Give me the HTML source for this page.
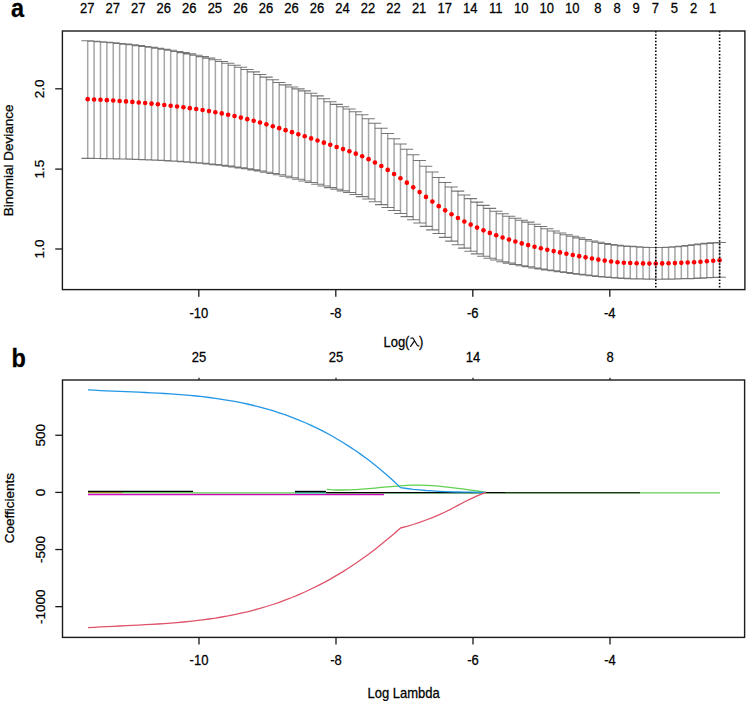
<!DOCTYPE html>
<html><head><meta charset="utf-8"><title>glmnet</title>
<style>html,body{margin:0;padding:0;background:#fff;width:749px;height:701px;overflow:hidden}</style>
</head><body>
<svg width="749" height="701" viewBox="0 0 749 701" style="display:block">
<rect width="749" height="701" fill="#fff"/>
<path d="M87.70 40.72V158.38M94.08 41.19V158.46M100.47 41.69V158.56M106.85 42.23V158.66M113.23 42.81V158.78M119.62 43.44V158.92M126.00 44.11V159.07M132.38 44.84V159.25M138.76 45.61V159.45M145.15 46.43V159.68M151.53 47.31V159.94M157.91 48.25V160.22M164.30 49.24V160.54M170.68 50.30V160.90M177.06 51.42V161.29M183.44 52.60V161.73M189.83 53.86V162.21M196.21 55.19V162.73M202.59 56.60V163.30M208.98 58.10V163.93M215.36 59.71V164.60M221.74 61.42V165.33M228.13 63.25V166.12M234.51 65.20V166.96M240.89 67.29V167.87M247.27 69.51V168.84M253.66 71.89V169.89M260.04 74.43V171.00M266.42 77.11V172.19M272.81 79.83V173.46M279.19 82.46V174.80M285.57 84.86V176.23M291.96 86.95V177.74M298.34 88.89V179.31M304.72 90.89V180.94M311.11 93.17V182.59M317.49 95.86V184.27M323.87 98.80V185.95M330.25 101.71V187.62M336.64 104.35V189.26M343.02 106.73V190.88M349.40 109.07V192.57M355.79 111.66V194.44M362.17 114.80V196.60M368.55 118.70V199.06M374.94 123.27V201.75M381.32 128.32V204.61M387.70 133.58V207.57M394.08 138.80V210.56M400.47 144.01V213.58M406.85 149.30V216.63M413.23 154.79V219.76M419.62 160.51V222.99M426.00 166.33V226.35M432.38 172.05V229.87M438.76 177.48V233.57M445.15 182.44V237.37M451.53 186.96V241.14M457.91 191.11V244.76M464.30 194.98V248.13M470.68 198.64V251.16M477.06 202.10V253.85M483.45 205.35V256.20M489.83 208.39V258.26M496.21 211.21V260.08M502.59 213.82V261.68M508.98 216.19V263.12M515.36 218.31V264.44M521.74 220.22V265.67M528.13 222.11V266.83M534.51 224.18V267.91M540.89 226.40V268.93M547.28 228.71V269.90M553.66 230.95V270.83M560.04 232.93V271.72M566.43 234.68V272.59M572.81 236.29V273.43M579.19 237.85V274.25M585.57 239.42V275.04M591.96 240.94V275.77M598.34 242.34V276.44M604.72 243.56V277.04M611.11 244.53V277.56M617.49 245.29V278.00M623.87 245.90V278.37M630.25 246.39V278.66M636.64 246.82V278.89M643.02 247.17V279.05M649.40 247.41V279.14M655.79 247.51V279.18M662.17 247.45V279.17M668.55 247.20V279.10M674.94 246.75V278.99M681.32 246.15V278.83M687.70 245.44V278.64M694.09 244.70V278.40M700.47 243.99V278.14M706.85 243.35V277.84M713.23 242.85V277.52M719.62 242.56V277.17" stroke="#a6a6a6" stroke-width="1.5" fill="none"/>
<path d="M81.38 40.72H94.02M81.38 158.38H94.02M87.76 41.19H100.40M87.76 158.46H100.40M94.15 41.69H106.79M94.15 158.56H106.79M100.53 42.23H113.17M100.53 158.66H113.17M106.91 42.81H119.55M106.91 158.78H119.55M113.30 43.44H125.94M113.30 158.92H125.94M119.68 44.11H132.32M119.68 159.07H132.32M126.06 44.84H138.70M126.06 159.25H138.70M132.44 45.61H145.08M132.44 159.45H145.08M138.83 46.43H151.47M138.83 159.68H151.47M145.21 47.31H157.85M145.21 159.94H157.85M151.59 48.25H164.23M151.59 160.22H164.23M157.98 49.24H170.62M157.98 160.54H170.62M164.36 50.30H177.00M164.36 160.90H177.00M170.74 51.42H183.38M170.74 161.29H183.38M177.12 52.60H189.76M177.12 161.73H189.76M183.51 53.86H196.15M183.51 162.21H196.15M189.89 55.19H202.53M189.89 162.73H202.53M196.27 56.60H208.91M196.27 163.30H208.91M202.66 58.10H215.30M202.66 163.93H215.30M209.04 59.71H221.68M209.04 164.60H221.68M215.42 61.42H228.06M215.42 165.33H228.06M221.81 63.25H234.45M221.81 166.12H234.45M228.19 65.20H240.83M228.19 166.96H240.83M234.57 67.29H247.21M234.57 167.87H247.21M240.95 69.51H253.59M240.95 168.84H253.59M247.34 71.89H259.98M247.34 169.89H259.98M253.72 74.43H266.36M253.72 171.00H266.36M260.10 77.11H272.74M260.10 172.19H272.74M266.49 79.83H279.13M266.49 173.46H279.13M272.87 82.46H285.51M272.87 174.80H285.51M279.25 84.86H291.89M279.25 176.23H291.89M285.64 86.95H298.28M285.64 177.74H298.28M292.02 88.89H304.66M292.02 179.31H304.66M298.40 90.89H311.04M298.40 180.94H311.04M304.79 93.17H317.43M304.79 182.59H317.43M311.17 95.86H323.81M311.17 184.27H323.81M317.55 98.80H330.19M317.55 185.95H330.19M323.93 101.71H336.57M323.93 187.62H336.57M330.32 104.35H342.96M330.32 189.26H342.96M336.70 106.73H349.34M336.70 190.88H349.34M343.08 109.07H355.72M343.08 192.57H355.72M349.47 111.66H362.11M349.47 194.44H362.11M355.85 114.80H368.49M355.85 196.60H368.49M362.23 118.70H374.87M362.23 199.06H374.87M368.62 123.27H381.25M368.62 201.75H381.25M375.00 128.32H387.64M375.00 204.61H387.64M381.38 133.58H394.02M381.38 207.57H394.02M387.76 138.80H400.40M387.76 210.56H400.40M394.15 144.01H406.79M394.15 213.58H406.79M400.53 149.30H413.17M400.53 216.63H413.17M406.91 154.79H419.55M406.91 219.76H419.55M413.30 160.51H425.94M413.30 222.99H425.94M419.68 166.33H432.32M419.68 226.35H432.32M426.06 172.05H438.70M426.06 229.87H438.70M432.44 177.48H445.08M432.44 233.57H445.08M438.83 182.44H451.47M438.83 237.37H451.47M445.21 186.96H457.85M445.21 241.14H457.85M451.59 191.11H464.23M451.59 244.76H464.23M457.98 194.98H470.62M457.98 248.13H470.62M464.36 198.64H477.00M464.36 251.16H477.00M470.74 202.10H483.38M470.74 253.85H483.38M477.13 205.35H489.77M477.13 256.20H489.77M483.51 208.39H496.15M483.51 258.26H496.15M489.89 211.21H502.53M489.89 260.08H502.53M496.27 213.82H508.91M496.27 261.68H508.91M502.66 216.19H515.30M502.66 263.12H515.30M509.04 218.31H521.68M509.04 264.44H521.68M515.42 220.22H528.06M515.42 265.67H528.06M521.81 222.11H534.45M521.81 266.83H534.45M528.19 224.18H540.83M528.19 267.91H540.83M534.57 226.40H547.21M534.57 268.93H547.21M540.96 228.71H553.60M540.96 269.90H553.60M547.34 230.95H559.98M547.34 270.83H559.98M553.72 232.93H566.36M553.72 271.72H566.36M560.11 234.68H572.75M560.11 272.59H572.75M566.49 236.29H579.13M566.49 273.43H579.13M572.87 237.85H585.51M572.87 274.25H585.51M579.25 239.42H591.89M579.25 275.04H591.89M585.64 240.94H598.28M585.64 275.77H598.28M592.02 242.34H604.66M592.02 276.44H604.66M598.40 243.56H611.04M598.40 277.04H611.04M604.79 244.53H617.43M604.79 277.56H617.43M611.17 245.29H623.81M611.17 278.00H623.81M617.55 245.90H630.19M617.55 278.37H630.19M623.93 246.39H636.58M623.93 278.66H636.58M630.32 246.82H642.96M630.32 278.89H642.96M636.70 247.17H649.34M636.70 279.05H649.34M643.08 247.41H655.72M643.08 279.14H655.72M649.47 247.51H662.11M649.47 279.18H662.11M655.85 247.45H668.49M655.85 279.17H668.49M662.23 247.20H674.87M662.23 279.10H674.87M668.62 246.75H681.26M668.62 278.99H681.26M675.00 246.15H687.64M675.00 278.83H687.64M681.38 245.44H694.02M681.38 278.64H694.02M687.76 244.70H700.41M687.76 278.40H700.41M694.15 243.99H706.79M694.15 278.14H706.79M700.53 243.35H713.17M700.53 277.84H713.17M706.91 242.85H719.55M706.91 277.52H719.55M713.30 242.56H725.94M713.30 277.17H725.94" stroke="#4a4a4a" stroke-opacity="0.75" stroke-width="1.05" fill="none"/>
<circle cx="87.70" cy="99.15" r="2.3" fill="#f00"/>
<circle cx="94.08" cy="99.45" r="2.3" fill="#f00"/>
<circle cx="100.47" cy="99.78" r="2.3" fill="#f00"/>
<circle cx="106.85" cy="100.14" r="2.3" fill="#f00"/>
<circle cx="113.23" cy="100.53" r="2.3" fill="#f00"/>
<circle cx="119.62" cy="100.96" r="2.3" fill="#f00"/>
<circle cx="126.00" cy="101.42" r="2.3" fill="#f00"/>
<circle cx="132.38" cy="101.92" r="2.3" fill="#f00"/>
<circle cx="138.76" cy="102.45" r="2.3" fill="#f00"/>
<circle cx="145.15" cy="103.02" r="2.3" fill="#f00"/>
<circle cx="151.53" cy="103.63" r="2.3" fill="#f00"/>
<circle cx="157.91" cy="104.27" r="2.3" fill="#f00"/>
<circle cx="164.30" cy="104.96" r="2.3" fill="#f00"/>
<circle cx="170.68" cy="105.69" r="2.3" fill="#f00"/>
<circle cx="177.06" cy="106.46" r="2.3" fill="#f00"/>
<circle cx="183.44" cy="107.28" r="2.3" fill="#f00"/>
<circle cx="189.83" cy="108.15" r="2.3" fill="#f00"/>
<circle cx="196.21" cy="109.07" r="2.3" fill="#f00"/>
<circle cx="202.59" cy="110.05" r="2.3" fill="#f00"/>
<circle cx="208.98" cy="111.10" r="2.3" fill="#f00"/>
<circle cx="215.36" cy="112.21" r="2.3" fill="#f00"/>
<circle cx="221.74" cy="113.41" r="2.3" fill="#f00"/>
<circle cx="228.13" cy="114.71" r="2.3" fill="#f00"/>
<circle cx="234.51" cy="116.10" r="2.3" fill="#f00"/>
<circle cx="240.89" cy="117.59" r="2.3" fill="#f00"/>
<circle cx="247.27" cy="119.16" r="2.3" fill="#f00"/>
<circle cx="253.66" cy="120.82" r="2.3" fill="#f00"/>
<circle cx="260.04" cy="122.56" r="2.3" fill="#f00"/>
<circle cx="266.42" cy="124.36" r="2.3" fill="#f00"/>
<circle cx="272.81" cy="126.23" r="2.3" fill="#f00"/>
<circle cx="279.19" cy="128.15" r="2.3" fill="#f00"/>
<circle cx="285.57" cy="130.13" r="2.3" fill="#f00"/>
<circle cx="291.96" cy="132.15" r="2.3" fill="#f00"/>
<circle cx="298.34" cy="134.20" r="2.3" fill="#f00"/>
<circle cx="304.72" cy="136.28" r="2.3" fill="#f00"/>
<circle cx="311.11" cy="138.39" r="2.3" fill="#f00"/>
<circle cx="317.49" cy="140.52" r="2.3" fill="#f00"/>
<circle cx="323.87" cy="142.66" r="2.3" fill="#f00"/>
<circle cx="330.25" cy="144.80" r="2.3" fill="#f00"/>
<circle cx="336.64" cy="146.94" r="2.3" fill="#f00"/>
<circle cx="343.02" cy="149.09" r="2.3" fill="#f00"/>
<circle cx="349.40" cy="151.30" r="2.3" fill="#f00"/>
<circle cx="355.79" cy="153.66" r="2.3" fill="#f00"/>
<circle cx="362.17" cy="156.26" r="2.3" fill="#f00"/>
<circle cx="368.55" cy="159.16" r="2.3" fill="#f00"/>
<circle cx="374.94" cy="162.44" r="2.3" fill="#f00"/>
<circle cx="381.32" cy="166.03" r="2.3" fill="#f00"/>
<circle cx="387.70" cy="169.89" r="2.3" fill="#f00"/>
<circle cx="394.08" cy="173.95" r="2.3" fill="#f00"/>
<circle cx="400.47" cy="178.20" r="2.3" fill="#f00"/>
<circle cx="406.85" cy="182.67" r="2.3" fill="#f00"/>
<circle cx="413.23" cy="187.33" r="2.3" fill="#f00"/>
<circle cx="419.62" cy="192.11" r="2.3" fill="#f00"/>
<circle cx="426.00" cy="196.91" r="2.3" fill="#f00"/>
<circle cx="432.38" cy="201.61" r="2.3" fill="#f00"/>
<circle cx="438.76" cy="206.13" r="2.3" fill="#f00"/>
<circle cx="445.15" cy="210.36" r="2.3" fill="#f00"/>
<circle cx="451.53" cy="214.32" r="2.3" fill="#f00"/>
<circle cx="457.91" cy="218.00" r="2.3" fill="#f00"/>
<circle cx="464.30" cy="221.43" r="2.3" fill="#f00"/>
<circle cx="470.68" cy="224.62" r="2.3" fill="#f00"/>
<circle cx="477.06" cy="227.59" r="2.3" fill="#f00"/>
<circle cx="483.45" cy="230.35" r="2.3" fill="#f00"/>
<circle cx="489.83" cy="232.92" r="2.3" fill="#f00"/>
<circle cx="496.21" cy="235.31" r="2.3" fill="#f00"/>
<circle cx="502.59" cy="237.54" r="2.3" fill="#f00"/>
<circle cx="508.98" cy="239.62" r="2.3" fill="#f00"/>
<circle cx="515.36" cy="241.56" r="2.3" fill="#f00"/>
<circle cx="521.74" cy="243.39" r="2.3" fill="#f00"/>
<circle cx="528.13" cy="245.10" r="2.3" fill="#f00"/>
<circle cx="534.51" cy="246.72" r="2.3" fill="#f00"/>
<circle cx="540.89" cy="248.25" r="2.3" fill="#f00"/>
<circle cx="547.28" cy="249.69" r="2.3" fill="#f00"/>
<circle cx="553.66" cy="251.08" r="2.3" fill="#f00"/>
<circle cx="560.04" cy="252.40" r="2.3" fill="#f00"/>
<circle cx="566.43" cy="253.68" r="2.3" fill="#f00"/>
<circle cx="572.81" cy="254.93" r="2.3" fill="#f00"/>
<circle cx="579.19" cy="256.16" r="2.3" fill="#f00"/>
<circle cx="585.57" cy="257.36" r="2.3" fill="#f00"/>
<circle cx="591.96" cy="258.53" r="2.3" fill="#f00"/>
<circle cx="598.34" cy="259.62" r="2.3" fill="#f00"/>
<circle cx="604.72" cy="260.61" r="2.3" fill="#f00"/>
<circle cx="611.11" cy="261.48" r="2.3" fill="#f00"/>
<circle cx="617.49" cy="262.18" r="2.3" fill="#f00"/>
<circle cx="623.87" cy="262.70" r="2.3" fill="#f00"/>
<circle cx="630.25" cy="263.07" r="2.3" fill="#f00"/>
<circle cx="636.64" cy="263.30" r="2.3" fill="#f00"/>
<circle cx="643.02" cy="263.42" r="2.3" fill="#f00"/>
<circle cx="649.40" cy="263.47" r="2.3" fill="#f00"/>
<circle cx="655.79" cy="263.46" r="2.3" fill="#f00"/>
<circle cx="662.17" cy="263.40" r="2.3" fill="#f00"/>
<circle cx="668.55" cy="263.28" r="2.3" fill="#f00"/>
<circle cx="674.94" cy="263.10" r="2.3" fill="#f00"/>
<circle cx="681.32" cy="262.87" r="2.3" fill="#f00"/>
<circle cx="687.70" cy="262.56" r="2.3" fill="#f00"/>
<circle cx="694.09" cy="262.19" r="2.3" fill="#f00"/>
<circle cx="700.47" cy="261.75" r="2.3" fill="#f00"/>
<circle cx="706.85" cy="261.27" r="2.3" fill="#f00"/>
<circle cx="713.23" cy="260.75" r="2.3" fill="#f00"/>
<circle cx="719.62" cy="260.19" r="2.3" fill="#f00"/>
<line x1="655.79" y1="31" x2="655.79" y2="289.6" stroke="#000" stroke-width="1.6" stroke-dasharray="1.5 1.77"/>
<line x1="719.62" y1="31" x2="719.62" y2="289.6" stroke="#000" stroke-width="1.6" stroke-dasharray="1.5 1.77"/>
<rect x="62.4" y="31" width="682.5" height="258.6" fill="none" stroke="#1a1a1a" stroke-width="1.4"/>
<line x1="198.80" y1="289.6" x2="198.80" y2="296.8" stroke="#1a1a1a" stroke-width="1.3"/>
<text transform="translate(198.80 317.80) scale(1 1.07)" font-family="Liberation Sans, sans-serif" font-size="13" text-anchor="middle" fill="#000" stroke="#000" stroke-width="0.25">-10</text>
<line x1="335.80" y1="289.6" x2="335.80" y2="296.8" stroke="#1a1a1a" stroke-width="1.3"/>
<text transform="translate(335.80 317.80) scale(1 1.07)" font-family="Liberation Sans, sans-serif" font-size="13" text-anchor="middle" fill="#000" stroke="#000" stroke-width="0.25">-8</text>
<line x1="472.80" y1="289.6" x2="472.80" y2="296.8" stroke="#1a1a1a" stroke-width="1.3"/>
<text transform="translate(472.80 317.80) scale(1 1.07)" font-family="Liberation Sans, sans-serif" font-size="13" text-anchor="middle" fill="#000" stroke="#000" stroke-width="0.25">-6</text>
<line x1="609.80" y1="289.6" x2="609.80" y2="296.8" stroke="#1a1a1a" stroke-width="1.3"/>
<text transform="translate(609.80 317.80) scale(1 1.07)" font-family="Liberation Sans, sans-serif" font-size="13" text-anchor="middle" fill="#000" stroke="#000" stroke-width="0.25">-4</text>
<line x1="55.2" y1="88.8" x2="62.4" y2="88.8" stroke="#1a1a1a" stroke-width="1.3"/>
<text transform="translate(44.30 88.80) scale(1 1.04) rotate(-90)" font-family="Liberation Sans, sans-serif" font-size="13" text-anchor="middle" fill="#000" stroke="#000" stroke-width="0.25">2.0</text>
<line x1="55.2" y1="169.1" x2="62.4" y2="169.1" stroke="#1a1a1a" stroke-width="1.3"/>
<text transform="translate(44.30 169.10) scale(1 1.04) rotate(-90)" font-family="Liberation Sans, sans-serif" font-size="13" text-anchor="middle" fill="#000" stroke="#000" stroke-width="0.25">1.5</text>
<line x1="55.2" y1="249.0" x2="62.4" y2="249.0" stroke="#1a1a1a" stroke-width="1.3"/>
<text transform="translate(44.30 249.00) scale(1 1.04) rotate(-90)" font-family="Liberation Sans, sans-serif" font-size="13" text-anchor="middle" fill="#000" stroke="#000" stroke-width="0.25">1.0</text>
<text transform="translate(13.30 160.40) scale(1 1.04) rotate(-90)" font-family="Liberation Sans, sans-serif" font-size="13" text-anchor="middle" fill="#000" stroke="#000" stroke-width="0.25">Binomial Deviance</text>
<text transform="translate(0 346.5) scale(1 1.07)" font-family="Liberation Sans, sans-serif" font-size="13" stroke="#000" stroke-width="0.25"><tspan x="383.5">Log</tspan><tspan x="404.9">(</tspan><tspan x="418.9">)</tspan></text>
<text transform="translate(87.20 12.60) scale(1 1.07)" font-family="Liberation Sans, sans-serif" font-size="13" text-anchor="middle" fill="#000" stroke="#000" stroke-width="0.25">27</text>
<text transform="translate(112.73 12.60) scale(1 1.07)" font-family="Liberation Sans, sans-serif" font-size="13" text-anchor="middle" fill="#000" stroke="#000" stroke-width="0.25">27</text>
<text transform="translate(138.26 12.60) scale(1 1.07)" font-family="Liberation Sans, sans-serif" font-size="13" text-anchor="middle" fill="#000" stroke="#000" stroke-width="0.25">27</text>
<text transform="translate(163.80 12.60) scale(1 1.07)" font-family="Liberation Sans, sans-serif" font-size="13" text-anchor="middle" fill="#000" stroke="#000" stroke-width="0.25">26</text>
<text transform="translate(189.33 12.60) scale(1 1.07)" font-family="Liberation Sans, sans-serif" font-size="13" text-anchor="middle" fill="#000" stroke="#000" stroke-width="0.25">26</text>
<text transform="translate(214.86 12.60) scale(1 1.07)" font-family="Liberation Sans, sans-serif" font-size="13" text-anchor="middle" fill="#000" stroke="#000" stroke-width="0.25">25</text>
<text transform="translate(240.39 12.60) scale(1 1.07)" font-family="Liberation Sans, sans-serif" font-size="13" text-anchor="middle" fill="#000" stroke="#000" stroke-width="0.25">26</text>
<text transform="translate(265.92 12.60) scale(1 1.07)" font-family="Liberation Sans, sans-serif" font-size="13" text-anchor="middle" fill="#000" stroke="#000" stroke-width="0.25">26</text>
<text transform="translate(291.46 12.60) scale(1 1.07)" font-family="Liberation Sans, sans-serif" font-size="13" text-anchor="middle" fill="#000" stroke="#000" stroke-width="0.25">26</text>
<text transform="translate(316.99 12.60) scale(1 1.07)" font-family="Liberation Sans, sans-serif" font-size="13" text-anchor="middle" fill="#000" stroke="#000" stroke-width="0.25">26</text>
<text transform="translate(342.52 12.60) scale(1 1.07)" font-family="Liberation Sans, sans-serif" font-size="13" text-anchor="middle" fill="#000" stroke="#000" stroke-width="0.25">24</text>
<text transform="translate(368.05 12.60) scale(1 1.07)" font-family="Liberation Sans, sans-serif" font-size="13" text-anchor="middle" fill="#000" stroke="#000" stroke-width="0.25">22</text>
<text transform="translate(393.58 12.60) scale(1 1.07)" font-family="Liberation Sans, sans-serif" font-size="13" text-anchor="middle" fill="#000" stroke="#000" stroke-width="0.25">22</text>
<text transform="translate(419.12 12.60) scale(1 1.07)" font-family="Liberation Sans, sans-serif" font-size="13" text-anchor="middle" fill="#000" stroke="#000" stroke-width="0.25">21</text>
<text transform="translate(444.65 12.60) scale(1 1.07)" font-family="Liberation Sans, sans-serif" font-size="13" text-anchor="middle" fill="#000" stroke="#000" stroke-width="0.25">17</text>
<text transform="translate(470.18 12.60) scale(1 1.07)" font-family="Liberation Sans, sans-serif" font-size="13" text-anchor="middle" fill="#000" stroke="#000" stroke-width="0.25">14</text>
<text transform="translate(495.71 12.60) scale(1 1.07)" font-family="Liberation Sans, sans-serif" font-size="13" text-anchor="middle" fill="#000" stroke="#000" stroke-width="0.25">11</text>
<text transform="translate(521.24 12.60) scale(1 1.07)" font-family="Liberation Sans, sans-serif" font-size="13" text-anchor="middle" fill="#000" stroke="#000" stroke-width="0.25">10</text>
<text transform="translate(546.78 12.60) scale(1 1.07)" font-family="Liberation Sans, sans-serif" font-size="13" text-anchor="middle" fill="#000" stroke="#000" stroke-width="0.25">10</text>
<text transform="translate(572.31 12.60) scale(1 1.07)" font-family="Liberation Sans, sans-serif" font-size="13" text-anchor="middle" fill="#000" stroke="#000" stroke-width="0.25">10</text>
<text transform="translate(597.84 12.60) scale(1 1.07)" font-family="Liberation Sans, sans-serif" font-size="13" text-anchor="middle" fill="#000" stroke="#000" stroke-width="0.25">8</text>
<text transform="translate(616.99 12.60) scale(1 1.07)" font-family="Liberation Sans, sans-serif" font-size="13" text-anchor="middle" fill="#000" stroke="#000" stroke-width="0.25">8</text>
<text transform="translate(636.14 12.60) scale(1 1.07)" font-family="Liberation Sans, sans-serif" font-size="13" text-anchor="middle" fill="#000" stroke="#000" stroke-width="0.25">9</text>
<text transform="translate(655.29 12.60) scale(1 1.07)" font-family="Liberation Sans, sans-serif" font-size="13" text-anchor="middle" fill="#000" stroke="#000" stroke-width="0.25">7</text>
<text transform="translate(674.44 12.60) scale(1 1.07)" font-family="Liberation Sans, sans-serif" font-size="13" text-anchor="middle" fill="#000" stroke="#000" stroke-width="0.25">5</text>
<text transform="translate(693.59 12.60) scale(1 1.07)" font-family="Liberation Sans, sans-serif" font-size="13" text-anchor="middle" fill="#000" stroke="#000" stroke-width="0.25">2</text>
<text transform="translate(712.73 12.60) scale(1 1.07)" font-family="Liberation Sans, sans-serif" font-size="13" text-anchor="middle" fill="#000" stroke="#000" stroke-width="0.25">1</text>
<path d="M410.9 338.2 Q412.6 337.4 413.4 338.8 L417.2 345.2 Q417.8 346.2 418.9 345.8 M414.3 341.2 L410.6 346.4" fill="none" stroke="#111" stroke-width="1.25" stroke-linecap="round"/>
<text transform="translate(10.90 17.00) scale(1 1.07)" font-family="Liberation Sans, sans-serif" font-size="23.5" font-weight="bold" text-anchor="start" fill="#000" stroke="#000" stroke-width="0.25">a</text>
<line x1="88" y1="494.5" x2="384" y2="494.5" stroke="#CD0BBC" stroke-width="1.3"/>
<line x1="88" y1="492.6" x2="123" y2="492.6" stroke="#8a8a20" stroke-width="1.1"/>
<line x1="122.5" y1="492.5" x2="193" y2="492.5" stroke="#61D04F" stroke-width="1.3"/>
<line x1="193" y1="492.8" x2="720" y2="492.8" stroke="#61D04F" stroke-width="1.3"/>
<line x1="295" y1="492.9" x2="326" y2="492.9" stroke="#28E2E5" stroke-width="1.0"/>
<line x1="385" y1="492.6" x2="485" y2="492.6" stroke="#28E2E5" stroke-width="1.0"/>
<line x1="88" y1="491.3" x2="193" y2="491.3" stroke="#000" stroke-width="1.2"/>
<line x1="295" y1="491.6" x2="326" y2="491.6" stroke="#000" stroke-width="1.6"/>
<line x1="326" y1="492.6" x2="505" y2="492.6" stroke="#000" stroke-width="1.1"/>
<line x1="505" y1="492.8" x2="640" y2="492.8" stroke="#000" stroke-width="1.1"/>
<polyline points="326.8,489.4 330.3,489.7 336.6,490.0 343.0,490.0 349.4,489.9 355.8,489.6 362.2,489.2 368.6,488.7 374.9,488.1 381.3,487.4 387.7,486.8 394.1,486.3 400.5,485.8 406.8,485.4 413.2,485.2 419.6,485.2 426.0,485.4 432.4,485.7 438.8,486.2 445.1,486.9 451.5,487.6 457.9,488.4 464.3,489.2 470.7,490.1 477.1,491.0 483.4,491.9 486.0,492.2" fill="none" stroke="#61D04F" stroke-width="1.3" stroke-linejoin="round"/>
<polyline points="88.0,389.9 94.1,390.2 100.5,390.6 106.8,390.9 113.2,391.1 119.6,391.4 126.0,391.7 132.4,391.9 138.8,392.2 145.1,392.5 151.5,392.8 157.9,393.1 164.3,393.5 170.7,393.9 177.1,394.3 183.4,394.8 189.8,395.4 196.2,396.0 202.6,396.7 209.0,397.5 215.4,398.3 221.7,399.3 228.1,400.3 234.5,401.4 240.9,402.7 247.3,404.0 253.7,405.5 260.0,407.1 266.4,408.9 272.8,410.7 279.2,412.8 285.6,414.9 292.0,417.3 298.3,419.8 304.7,422.5 311.1,425.3 317.5,428.4 323.9,431.6 330.3,435.0 336.6,438.7 343.0,442.5 349.4,446.6 355.8,450.8 362.2,455.4 368.6,460.1 374.9,465.1 381.3,470.3 387.7,475.8 394.1,481.6 400.5,487.6 406.8,488.5 413.2,489.3 419.6,489.9 426.0,490.5 432.4,490.9 438.8,491.3 445.1,491.6 451.5,491.8 457.9,492.0 464.3,492.1 470.7,492.2 477.1,492.3 483.4,492.4 486.0,492.4" fill="none" stroke="#2297E6" stroke-width="1.3" stroke-linejoin="round"/>
<polyline points="88.0,627.6 94.1,627.3 100.5,626.9 106.8,626.6 113.2,626.3 119.6,626.0 126.0,625.7 132.4,625.4 138.8,625.1 145.1,624.7 151.5,624.4 157.9,624.0 164.3,623.6 170.7,623.1 177.1,622.6 183.4,622.0 189.8,621.4 196.2,620.7 202.6,619.9 209.0,619.0 215.4,618.1 221.7,617.0 228.1,615.9 234.5,614.6 240.9,613.2 247.3,611.8 253.7,610.1 260.0,608.4 266.4,606.5 272.8,604.5 279.2,602.3 285.6,599.9 292.0,597.5 298.3,594.8 304.7,592.0 311.1,589.0 317.5,585.9 323.9,582.6 330.3,579.1 336.6,575.4 343.0,571.6 349.4,567.5 355.8,563.3 362.2,558.8 368.6,554.2 374.9,549.4 381.3,544.3 387.7,539.1 394.1,533.7 400.5,528.0 406.8,526.4 413.2,524.5 419.6,522.3 426.0,520.0 432.4,517.6 438.8,514.9 445.1,512.0 451.5,508.8 457.9,505.4 464.3,502.0 470.7,498.8 477.1,495.8 483.4,493.3 486.0,492.4" fill="none" stroke="#DF536B" stroke-width="1.3" stroke-linejoin="round"/>
<rect x="62.5" y="380" width="682.1" height="257.4" fill="none" stroke="#1a1a1a" stroke-width="1.4"/>
<line x1="199.00" y1="637.4" x2="199.00" y2="644.6" stroke="#1a1a1a" stroke-width="1.3"/>
<text transform="translate(199.00 664.90) scale(1 1.07)" font-family="Liberation Sans, sans-serif" font-size="13" text-anchor="middle" fill="#000" stroke="#000" stroke-width="0.25">-10</text>
<line x1="336.00" y1="637.4" x2="336.00" y2="644.6" stroke="#1a1a1a" stroke-width="1.3"/>
<text transform="translate(336.00 664.90) scale(1 1.07)" font-family="Liberation Sans, sans-serif" font-size="13" text-anchor="middle" fill="#000" stroke="#000" stroke-width="0.25">-8</text>
<line x1="473.00" y1="637.4" x2="473.00" y2="644.6" stroke="#1a1a1a" stroke-width="1.3"/>
<text transform="translate(473.00 664.90) scale(1 1.07)" font-family="Liberation Sans, sans-serif" font-size="13" text-anchor="middle" fill="#000" stroke="#000" stroke-width="0.25">-6</text>
<line x1="610.00" y1="637.4" x2="610.00" y2="644.6" stroke="#1a1a1a" stroke-width="1.3"/>
<text transform="translate(610.00 664.90) scale(1 1.07)" font-family="Liberation Sans, sans-serif" font-size="13" text-anchor="middle" fill="#000" stroke="#000" stroke-width="0.25">-4</text>
<line x1="199.00" y1="380" x2="199.00" y2="377.8" stroke="#1a1a1a" stroke-width="1.2"/>
<text transform="translate(199.00 362.00) scale(1 1.07)" font-family="Liberation Sans, sans-serif" font-size="13" text-anchor="middle" fill="#000" stroke="#000" stroke-width="0.25">25</text>
<line x1="336.00" y1="380" x2="336.00" y2="377.8" stroke="#1a1a1a" stroke-width="1.2"/>
<text transform="translate(336.00 362.00) scale(1 1.07)" font-family="Liberation Sans, sans-serif" font-size="13" text-anchor="middle" fill="#000" stroke="#000" stroke-width="0.25">25</text>
<line x1="473.00" y1="380" x2="473.00" y2="377.8" stroke="#1a1a1a" stroke-width="1.2"/>
<text transform="translate(473.00 362.00) scale(1 1.07)" font-family="Liberation Sans, sans-serif" font-size="13" text-anchor="middle" fill="#000" stroke="#000" stroke-width="0.25">14</text>
<line x1="610.00" y1="380" x2="610.00" y2="377.8" stroke="#1a1a1a" stroke-width="1.2"/>
<text transform="translate(610.00 362.00) scale(1 1.07)" font-family="Liberation Sans, sans-serif" font-size="13" text-anchor="middle" fill="#000" stroke="#000" stroke-width="0.25">8</text>
<line x1="55.3" y1="435.26" x2="62.5" y2="435.26" stroke="#1a1a1a" stroke-width="1.3"/>
<text transform="translate(44.60 435.26) scale(1 1.04) rotate(-90)" font-family="Liberation Sans, sans-serif" font-size="13" text-anchor="middle" fill="#000" stroke="#000" stroke-width="0.25">500</text>
<line x1="55.3" y1="492.40" x2="62.5" y2="492.40" stroke="#1a1a1a" stroke-width="1.3"/>
<text transform="translate(44.60 492.40) scale(1 1.04) rotate(-90)" font-family="Liberation Sans, sans-serif" font-size="13" text-anchor="middle" fill="#000" stroke="#000" stroke-width="0.25">0</text>
<line x1="55.3" y1="549.53" x2="62.5" y2="549.53" stroke="#1a1a1a" stroke-width="1.3"/>
<text transform="translate(44.60 549.53) scale(1 1.04) rotate(-90)" font-family="Liberation Sans, sans-serif" font-size="13" text-anchor="middle" fill="#000" stroke="#000" stroke-width="0.25">-500</text>
<line x1="55.3" y1="606.67" x2="62.5" y2="606.67" stroke="#1a1a1a" stroke-width="1.3"/>
<text transform="translate(44.60 606.67) scale(1 1.04) rotate(-90)" font-family="Liberation Sans, sans-serif" font-size="13" text-anchor="middle" fill="#000" stroke="#000" stroke-width="0.25">-1000</text>
<text transform="translate(13.60 508.20) scale(1 1.04) rotate(-90)" font-family="Liberation Sans, sans-serif" font-size="13" text-anchor="middle" fill="#000" stroke="#000" stroke-width="0.25">Coefficients</text>
<text transform="translate(403.60 697.50) scale(1 1.07)" font-family="Liberation Sans, sans-serif" font-size="13" text-anchor="middle" fill="#000" stroke="#000" stroke-width="0.25">Log Lambda</text>
<text transform="translate(11.40 367.20) scale(1 1.07)" font-family="Liberation Sans, sans-serif" font-size="23.5" font-weight="bold" text-anchor="start" fill="#000" stroke="#000" stroke-width="0.25">b</text>
</svg>
</body></html>
